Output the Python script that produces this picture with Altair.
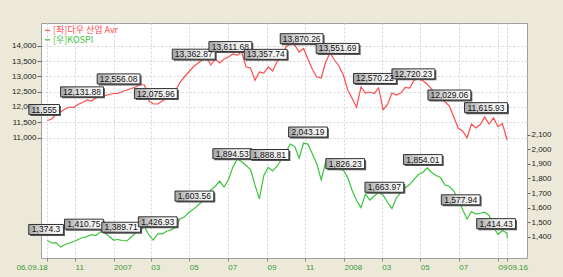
import altair as alt
import pandas as pd

# ---------------- data ----------------
weeks = pd.date_range("2006-09-18", periods=105, freq="7D").strftime("%Y-%m-%d").tolist()
dates = weeks + ["2008-09-16"]

dow = [11556, 11605, 11752, 11833, 11931, 11997, 11980, 12088, 12144, 12226,
       12193, 12297, 12330, 12369, 12405, 12438, 12438, 12503, 12552, 12601,
       12650, 12732, 12716, 12193, 12095, 12095, 12193, 12275, 12340, 12520,
       12797, 12977, 13141, 13304, 13418, 13533, 13614, 13369, 13565, 13435,
       13565, 13631, 13729, 13696, 13794, 13304, 13271, 12870, 13141, 13108,
       13304, 13173, 13484, 13631, 13957, 14055, 14023, 13794, 13908, 13565,
       13222, 12977, 12945, 13467, 13762, 13533, 13337, 13042, 12552, 12275,
       11990, 12650, 12454, 12487, 12438, 12618, 11900, 12079, 12454, 12389,
       12454, 12634, 12618, 12873, 12922, 12857, 12742, 12579, 12399, 12275,
       12170, 12029, 11670, 11311, 11212, 10990, 11441, 11311, 11425, 11670,
       11441, 11637, 11353, 11458, 10950, 10980]

kospi = [1374, 1357, 1360, 1329, 1347, 1357, 1367, 1381, 1395, 1401,
         1415, 1408, 1434, 1429, 1401, 1377, 1381, 1374, 1371, 1398,
         1425, 1446, 1467, 1412, 1377, 1419, 1419, 1438, 1447, 1463,
         1522, 1535, 1566, 1588, 1613, 1640, 1674, 1722, 1745, 1782,
         1741, 1791, 1878, 1933, 1915, 1889, 1861, 1755, 1660, 1820,
         1875, 1851, 1884, 1930, 1981, 2036, 2019, 1940, 2043, 2036,
         1968, 1899, 1790, 1913, 1923, 1875, 1861, 1858, 1806, 1717,
         1649, 1600, 1693, 1652, 1679, 1703, 1686, 1635, 1594, 1666,
         1703, 1734, 1758, 1793, 1827, 1841, 1872, 1841, 1820, 1806,
         1755, 1745, 1714, 1652, 1587, 1522, 1573, 1556, 1561, 1568,
         1546, 1467, 1415, 1443, 1425, 1388]

red_label_dates = ["2006-09-13", "2006-11-12", "2007-01-09", "2007-03-09", "2007-05-08",
                   "2007-07-05", "2007-08-30", "2007-10-26", "2007-12-22", "2008-02-19",
                   "2008-04-20", "2008-06-16", "2008-08-13"]
red_label_text = ["11,555", "12,131.88", "12,556.08", "12,075.96", "13,362.87", "13,611.68",
                  "13,357.74", "13,870.26", "13,551.69", "12,570.22", "12,720.23",
                  "12,029.06", "11,615.93"]

green_label_dates = ["2006-09-16", "2006-11-15", "2007-01-13", "2007-03-12", "2007-05-09",
                     "2007-07-08", "2007-09-05", "2007-11-05", "2008-01-03", "2008-03-05",
                     "2008-05-05", "2008-07-04", "2008-08-29"]
green_label_text = ["1,374.3", "1,410.75", "1,389.71", "1,426.93", "1,603.56", "1,894.53",
                    "1,888.81", "2,043.19", "1,826.23", "1,663.97", "1,854.01",
                    "1,577.94", "1,414.43"]

legend_red = "[좌]다우 산업 Avr"
legend_green = "[우]KOSPI"

x_tick_dates = [(2006, 9, 18), (2006, 11, 1), (2007, 1, 1), (2007, 3, 1), (2007, 5, 1),
                (2007, 7, 1), (2007, 9, 1), (2007, 11, 1), (2008, 1, 1), (2008, 3, 1),
                (2008, 5, 1), (2008, 7, 1), (2008, 9, 1), (2008, 9, 16)]
left_ticks = [11000, 11500, 12000, 12500, 13000, 13500, 14000]
right_ticks = [1400, 1500, 1600, 1700, 1800, 1900, 2000, 2100]

# ---------------- styling ----------------
RED = "#ff4d4d"
GREEN = "#3cc43c"
AXIS_FONT = "Liberation Sans"

red_df = pd.DataFrame({"date": dates, "value": dow})
green_df = pd.DataFrame({"date": dates, "value": kospi})
red_lab = pd.DataFrame({"date": red_label_dates, "text": red_label_text,
                        "value": [float(t.replace(",", "")) for t in red_label_text]})
green_lab = pd.DataFrame({"date": green_label_dates, "text": green_label_text,
                          "value": [float(t.replace(",", "")) for t in green_label_text]})

def dt(y, m, d):
    return alt.DateTime(year=y, month=m, date=d, utc=True)

x_enc = alt.X(
    "date:T",
    scale=alt.Scale(type="utc", domain=[dt(2006, 9, 8), dt(2008, 10, 17)]),
    axis=alt.Axis(
        values=[dt(*t) for t in x_tick_dates],
        labelExpr=("utcFormat(datum.value, '%m') == '01' ? utcFormat(datum.value, '%Y') : "
                   "(utcFormat(datum.value, '%d') != '01' ? "
                   "(utcFormat(datum.value, '%Y') == '2006' ? utcFormat(datum.value, '%y.%m.%d') "
                   ": utcFormat(datum.value, '%m.%d')) : utcFormat(datum.value, '%m'))"),
        labelAlign={"condition": {"test": "datum.value < utc(2006, 9, 1)", "value": "right"},
                    "value": "left"},
        labelFlush=False, labelOverlap=False,
        labelColor="#3a9a3a", labelFontSize=8, labelFont=AXIS_FONT, labelPadding=2,
        tickSize=3, tickColor="#888888",
        grid=True, gridDash=[2, 2], gridColor="#d4d4d4",
        domain=False, title=None,
    ),
)

y_red = alt.Y(
    "value:Q",
    scale=alt.Scale(domain=[7062, 14742], nice=False, zero=False),
    axis=alt.Axis(orient="left", values=left_ticks, format=",d", labelFontSize=8,
                  labelFont=AXIS_FONT, labelColor="#222222", tickSize=4, tickColor="#666666",
                  labelPadding=1, grid=True, gridDash=[2, 2], gridColor="#d4d4d4",
                  domain=False, title=None),
)

y_green = alt.Y(
    "value:Q",
    scale=alt.Scale(domain=[1254, 2867], nice=False, zero=False),
    axis=alt.Axis(orient="right", values=right_ticks, format=",d", labelFontSize=8,
                  labelFont=AXIS_FONT, labelColor="#222222", tickSize=3, tickColor="#666666",
                  labelPadding=1, grid=False, domain=False, title=None),
)

box_fill = alt.LinearGradient(
    gradient="linear",
    stops=[alt.GradientStop(color="#a4a4a4", offset=0),
           alt.GradientStop(color="#e4e4e4", offset=0.45),
           alt.GradientStop(color="#ffffff", offset=1)],
    x1=0, x2=1, y1=0, y2=0,
)

def label_layers(df, y_enc):
    base = alt.Chart(df).transform_calculate(
        w="length(datum.text) * 4.1 + 6"
    ).transform_calculate(
        box="'M' + (-datum.w / 2) + ',-16H' + (datum.w / 2) + 'V-6H' + (-datum.w / 2) + 'Z'",
        shadow="'M' + (-datum.w / 2 + 1.5) + ',-14.5H' + (datum.w / 2 + 1.5) + 'V-4.5H' + (-datum.w / 2 + 1.5) + 'Z'",
    )
    shadow = base.mark_point(filled=True, fill="#555555", strokeWidth=0, size=4, opacity=1).encode(
        x=x_enc, y=y_enc, shape=alt.Shape("shadow:N", scale=None, legend=None))
    box = base.mark_point(filled=True, fill=box_fill, stroke="#333333", strokeWidth=1,
                          size=4, opacity=1, fillOpacity=1).encode(
        x=x_enc, y=y_enc, shape=alt.Shape("box:N", scale=None, legend=None))
    text = base.mark_text(dy=-11, baseline="middle", align="center", fontSize=8.5,
                          font=AXIS_FONT, color="#111111").encode(
        x=x_enc, y=y_enc, text="text:N")
    return [shadow, box, text]

red_line = alt.Chart(red_df).mark_line(color=RED, strokeWidth=1.2).encode(x=x_enc, y=y_red)
green_line = alt.Chart(green_df).mark_line(color=GREEN, strokeWidth=1.2).encode(x=x_enc, y=y_green)

red_group = alt.layer(red_line, *label_layers(red_lab, y_red))
green_group = alt.layer(green_line, *label_layers(green_lab, y_green))

one = pd.DataFrame({"t": [legend_red]})
two = pd.DataFrame({"t": [legend_green]})
leg1_dash = alt.Chart(one).mark_rule(color=RED, strokeWidth=1.2).encode(
    x=alt.value(4), x2=alt.value(9), y=alt.value(7.4))
leg1_text = alt.Chart(one).mark_text(align="left", baseline="middle", fontSize=9,
                                     font="Noto Sans CJK KR", color=RED).encode(
    x=alt.value(12), y=alt.value(7.4), text="t:N")
leg2_dash = alt.Chart(two).mark_rule(color=GREEN, strokeWidth=1.2).encode(
    x=alt.value(4), x2=alt.value(9), y=alt.value(16.8))
leg2_text = alt.Chart(two).mark_text(align="left", baseline="middle", fontSize=9,
                                     font="Noto Sans CJK KR", color=GREEN).encode(
    x=alt.value(12), y=alt.value(16.8), text="t:N")

chart = alt.layer(
    red_group, green_group, leg1_dash, leg1_text, leg2_dash, leg2_text
).resolve_scale(
    y="independent"
).properties(
    width=486, height=235,
    autosize=alt.AutoSizeParams(type="none"),
    padding={"left": 41, "top": 23, "right": 36, "bottom": 19},
    background="#ece9d8",
).configure_view(
    fill="white", stroke="#a0a0a0", strokeWidth=1
)

chart.save("out.html", embed_options={"renderer": "svg", "actions": False})
